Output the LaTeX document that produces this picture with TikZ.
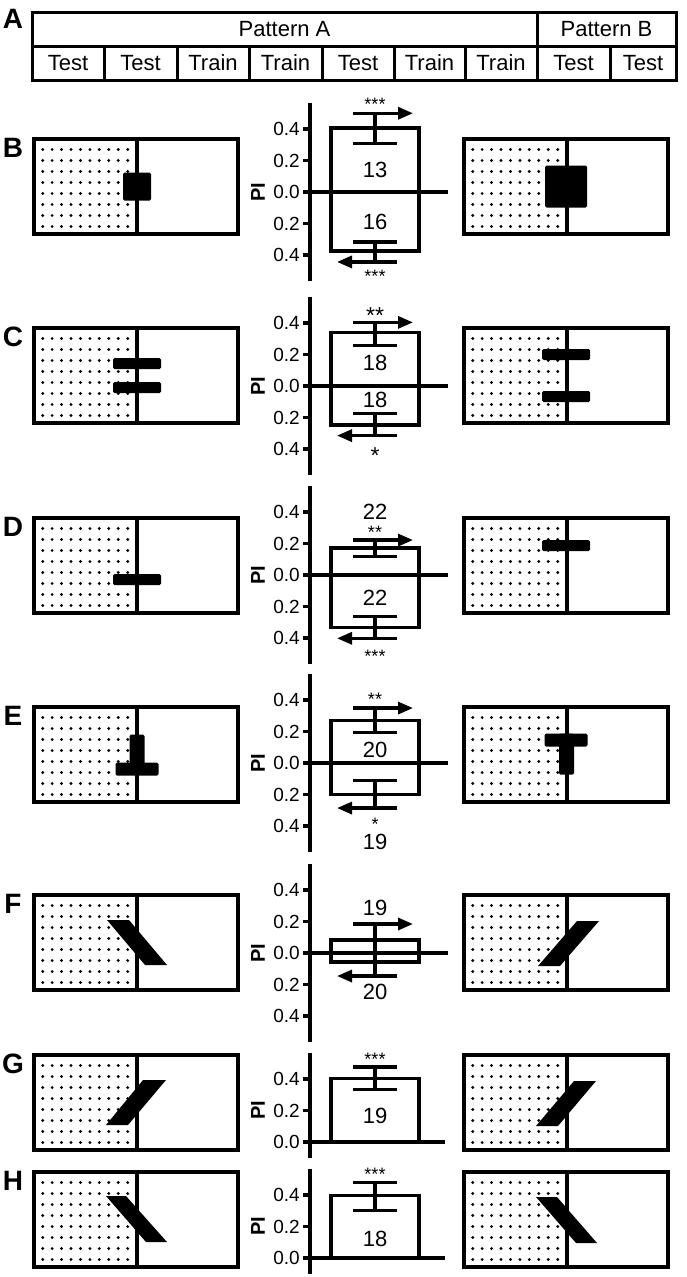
\documentclass[tikz,border=0pt]{standalone}
\usepackage{fontspec}
\setmainfont{Liberation Sans}
\usetikzlibrary{arrows.meta}
\begin{document}
\begin{tikzpicture}
[x=1pt,y=-1pt,
  lineDecorate/.style={line width=3.2pt},
  gridDecorate/.style={line width=3pt},
  arenaDecorate/.style={draw,line width=3.2pt,minimum width=204pt,minimum height=95pt,inner sep=0pt},
  shapeDecorate/.style={fill=black,rounded corners=1.5pt},
  arrowDecorate/.style={line width=3.2pt,-{Triangle[length=15pt,width=12pt]}},
  cellText/.style={font=\fontsize{22}{24}\selectfont},
  panelLabel/.style={font=\fontsize{28}{30}\selectfont\bfseries},
  tickLabel/.style={font=\fontsize{19}{21}\selectfont,anchor=east,inner sep=1pt},
  nLabel/.style={font=\fontsize{22}{24}\selectfont},
  starLabel/.style={font=\fontsize{18}{20}\selectfont,anchor=base},
  bigStar/.style={font=\fontsize{23}{25}\selectfont,anchor=base},
  piLabel/.style={font=\fontsize{20}{22}\selectfont\bfseries,rotate=90}]
\useasboundingbox (0,0) rectangle (686,1277);
%% panel A: the schedule
\node (labA) at (13,19) [panelLabel] {A};
\draw[gridDecorate] (32,12) rectangle (676,80);
\draw[gridDecorate] (32,46) -- (676,46);
\draw[gridDecorate] (537,12) -- (537,80);
\foreach \x in {104,177,249,322,394,465,610}
{
  \draw[gridDecorate] (\x,46) -- (\x,80);
}
\node (patA) at (284.5,29) [cellText] {Pattern A};
\node (patB) at (606.5,29) [cellText] {Pattern B};
\foreach \n/\xa/\xb/\txt in {
  1/32/104/Test, 2/104/177/Test, 3/177/249/Train, 4/249/322/Train,
  5/322/394/Test, 6/394/465/Train, 7/465/537/Train, 8/537/610/Test,
  9/610/676/Test}
{
  \node (cell\n) at ({(\xa+\xb)/2},63) [cellText] {\txt};
}
%% arenas with the dotted half
\foreach \pname/\ytop in {B/139, C/328, D/518, E/707, F/895, G/1055, H/1172}
{
  \node (lab\pname) at (13,\ytop+9) [panelLabel] {\pname};
  \foreach \side/\xl in {L/34, R/464}
  {
    \foreach \i in {0,...,9}
      \foreach \j in {0,...,7}
      {
        \fill (\xl+8.7+9.44*\i,\ytop+10.5+11*\j) circle (1.6pt);
      }
    \node (arena\pname\side) at (\xl+102,\ytop+47.5) [arenaDecorate] {};
    \draw[lineDecorate] ([xshift=1pt]arena\pname\side.north) -- ([xshift=1pt]arena\pname\side.south);
  }
}
%% patterns in the arenas
\fill[shapeDecorate] (123,172.5) rectangle (151,200.5);
\fill[shapeDecorate] (545,165.5) rectangle (587,207.5);
\fill[shapeDecorate] (113,358) rectangle (161,369);
\fill[shapeDecorate] (113,382) rectangle (161,393);
\fill[shapeDecorate] (542,349) rectangle (590,360);
\fill[shapeDecorate] (542,391) rectangle (590,402);
\fill[shapeDecorate] (113,574) rectangle (161,585);
\fill[shapeDecorate] (542,540) rectangle (590,551);
\fill[shapeDecorate] (129.5,734.5) rectangle (144.5,769.5);
\fill[shapeDecorate] (115.5,762.5) rectangle (158.5,775.5);
\fill[shapeDecorate] (544.5,733.5) rectangle (587.5,746.5);
\fill[shapeDecorate] (559,733.5) rectangle (574,774.5);
\fill (107,920) -- (129,920) -- (167,965) -- (145,965) -- cycle;
\fill (577,921) -- (599,921) -- (560,966) -- (538,966) -- cycle;
\fill (143,1080) -- (166,1080) -- (128,1125) -- (106,1125) -- cycle;
\fill (574,1081) -- (596,1081) -- (558,1126) -- (536,1126) -- cycle;
\fill (106,1196) -- (126,1196) -- (167,1242) -- (146,1242) -- cycle;
\fill (536,1197) -- (557,1197) -- (597,1243) -- (576,1243) -- cycle;
%% PI axes, two sided
\foreach \pname/\yz in {B/192, C/386, D/575, E/763, F/953}
{
  \draw[lineDecorate] (310,\yz-89) -- (310,\yz+89);
  \foreach \k/\tv in {0/0.4, 1/0.2, 2/0.0, 3/0.2, 4/0.4}
  {
    \draw[lineDecorate] (303,\yz-63+31.5*\k) -- (311,\yz-63+31.5*\k);
    \node (tick\pname\k) at (301,\yz-63+31.5*\k) [tickLabel] {\tv};
  }
  \node (pi\pname) at (258,\yz) [piLabel] {PI};
}
%% PI axes, one sided
\foreach \pname/\yz in {G/1142, H/1258}
{
  \draw[lineDecorate] (310,\yz-89) -- (310,\yz+16);
  \foreach \k/\tv in {0/0.4, 1/0.2, 2/0.0}
  {
    \draw[lineDecorate] (303,\yz-63+31.5*\k) -- (311,\yz-63+31.5*\k);
    \node (tick\pname\k) at (301,\yz-63+31.5*\k) [tickLabel] {\tv};
  }
  \node (pi\pname) at (258,\yz-32) [piLabel] {PI};
}
%% bars and error bars
\foreach \yz/\up/\ulo/\uhi/\dn/\dlo/\dhi in {
  192/0.406/0.31/0.50/0.375/0.317/0.444,
  386/0.338/0.258/0.404/0.248/0.173/0.315,
  575/0.171/0.116/0.222/0.333/0.265/0.402,
  763/0.27/0.194/0.349/0.201/0.11/0.286}
{
  \draw[lineDecorate] (331,\yz-157.5*\up) rectangle (419,\yz+157.5*\dn);
  \draw[lineDecorate] (375,\yz-157.5*\ulo) -- (375,\yz-157.5*\uhi);
  \draw[lineDecorate] (353,\yz-157.5*\ulo) -- (397,\yz-157.5*\ulo);
  \draw[arrowDecorate] (353,\yz-157.5*\uhi) -- (413,\yz-157.5*\uhi);
  \draw[lineDecorate] (375,\yz+157.5*\dlo) -- (375,\yz+157.5*\dhi);
  \draw[lineDecorate] (353,\yz+157.5*\dlo) -- (397,\yz+157.5*\dlo);
  \draw[arrowDecorate] (397,\yz+157.5*\dhi) -- (337,\yz+157.5*\dhi);
  \draw[lineDecorate] (310,\yz) -- (448,\yz);
}
\draw[lineDecorate] (331,940) rectangle (419,962);
\draw[lineDecorate] (375,924) -- (375,976);
\draw[arrowDecorate] (353,924) -- (413,924);
\draw[arrowDecorate] (397,976) -- (337,976);
\draw[lineDecorate] (310,953) -- (448,953);
\foreach \yz/\up/\ulo/\uhi in {1142/0.403/0.333/0.476, 1258/0.396/0.302/0.48}
{
  \draw[lineDecorate] (331,\yz) rectangle (419,\yz-157.5*\up);
  \draw[lineDecorate] (375,\yz-157.5*\ulo) -- (375,\yz-157.5*\uhi);
  \draw[lineDecorate] (353,\yz-157.5*\ulo) -- (397,\yz-157.5*\ulo);
  \draw[lineDecorate] (353,\yz-157.5*\uhi) -- (397,\yz-157.5*\uhi);
  \draw[lineDecorate] (310,\yz) -- (445,\yz);
}
%% fly numbers and stars
\foreach \n/\y/\txt in {
  nB1/170/13, nB2/222/16, nC1/363/18, nC2/400/18, nD1/512/22, nD2/598/22,
  nE1/750/20, nE2/842/19, nF1/908/19, nF2/992/20, nG1/1116/19, nH1/1239/18}
{
  \node (\n) at (375,\y) [nLabel] {\txt};
}
\foreach \n/\y/\txt in {
  sB1/110/***, sB2/282/***, sD1/538/**, sD2/662/***, sE1/705/**, sE2/830/*,
  sG1/1065/***, sH1/1180/***}
{
  \node (\n) at (375,\y) [starLabel] {\txt};
}
\node (sC1) at (375,323) [bigStar] {**};
\node (sC2) at (375,463) [bigStar] {*};
\end{tikzpicture}
\end{document}
